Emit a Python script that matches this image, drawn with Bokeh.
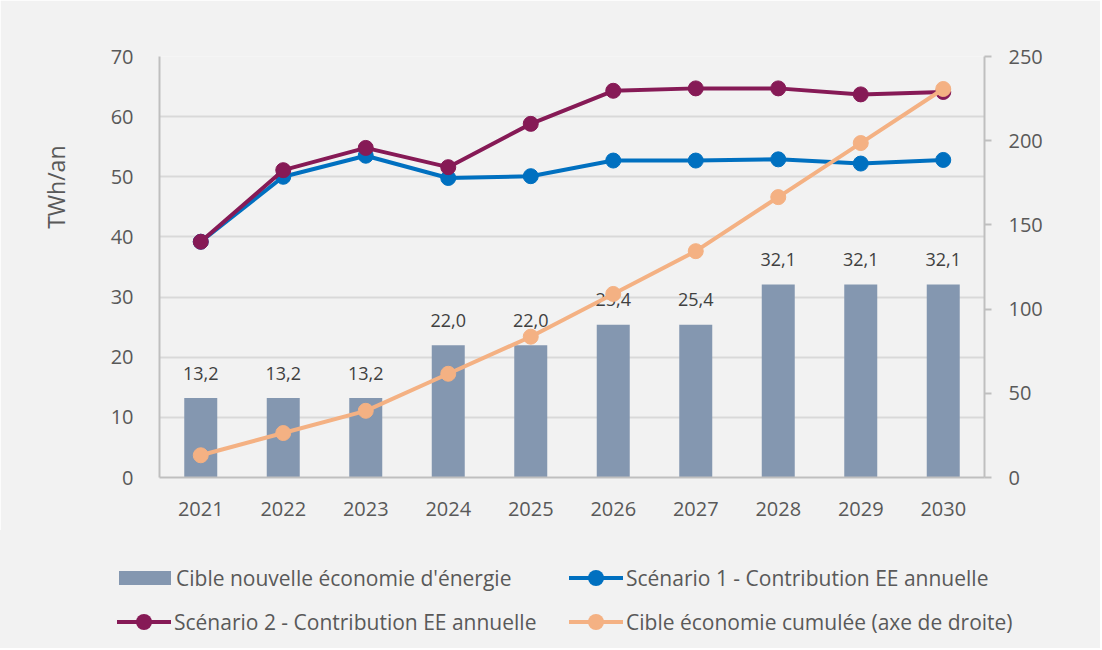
from bokeh.plotting import figure
from bokeh.layouts import column
from bokeh.models import (FactorRange, Range1d, LinearAxis, Title, Div,
                          ColumnDataSource, FixedTicker)
from bokeh.core.properties import value
from bokeh.embed import file_html
from bokeh.resources import INLINE

# ---- data ----
years = ["2021", "2022", "2023", "2024", "2025", "2026", "2027", "2028", "2029", "2030"]
cible_annuelle = [13.2, 13.2, 13.2, 22.0, 22.0, 25.4, 25.4, 32.1, 32.1, 32.1]
scenario1 = [39.2, 50.0, 53.5, 49.8, 50.1, 52.7, 52.7, 52.9, 52.2, 52.8]
scenario2 = [39.2, 51.1, 54.8, 51.6, 58.8, 64.3, 64.7, 64.7, 63.7, 64.1]
cible_cumulee = [13.2, 26.4, 39.6, 61.6, 83.6, 109.0, 134.4, 166.5, 198.6, 230.7]
left_ticks = [0, 10, 20, 30, 40, 50, 60, 70]
right_ticks = [0, 50, 100, 150, 200, 250]
bar_labels = [f"{v:.1f}".replace(".", ",") for v in cible_annuelle]

label_bar = "Cible nouvelle économie d'énergie"
label_s1 = "Scénario 1 - Contribution EE annuelle"
label_s2 = "Scénario 2 - Contribution EE annuelle"
label_cum = "Cible économie cumulée (axe de droite)"
y_title = "TWh/an"

# ---- style ----
FONT = "Open Sans"
TXT = "#595959"
BG = "#f2f2f2"
BAR_C = "#8497b0"
BLUE = "#0070c0"
PURPLE = "#861a56"
ORANGE = "#f4b183"
AXIS_C = "#bfbfbf"
GRID_C = "#d9d9d9"
W = 1100
H1, H2 = 530, 118
LW, MS = 4, 15

src = ColumnDataSource(dict(years=years, bars=cible_annuelle, s1=scenario1,
                            s2=scenario2, cum=cible_cumulee, lab=bar_labels))

p = figure(width=W, height=H1,
           x_range=FactorRange(*years, range_padding=0),
           y_range=Range1d(0, 70),
           output_backend="svg", toolbar_location=None,
           min_border_left=159, min_border_right=W - 984,
           min_border_top=56, min_border_bottom=H1 - 477)
p.extra_y_ranges = {"right": Range1d(0, 250)}

p.background_fill_color = BG
p.border_fill_color = BG
p.outline_line_color = None

# axes
p.xaxis.major_tick_line_color = None
p.xaxis.minor_tick_line_color = None
p.xaxis.axis_line_color = AXIS_C
p.xaxis.axis_line_width = 2
p.xaxis.major_label_standoff = 18
p.xaxis.major_label_text_font_size = "20px"
p.xaxis.major_label_text_color = TXT
p.xaxis.major_label_text_font = FONT

p.yaxis.ticker = FixedTicker(ticks=left_ticks)
p.yaxis.major_tick_line_color = None
p.yaxis.minor_tick_line_color = None
p.yaxis.axis_line_color = AXIS_C
p.yaxis.axis_line_width = 2
p.yaxis.major_label_standoff = 20
p.yaxis.major_label_text_font_size = "20px"
p.yaxis.major_label_text_color = TXT
p.yaxis.major_label_text_font = FONT

ry = LinearAxis(y_range_name="right", ticker=FixedTicker(ticks=right_ticks))
ry.axis_line_color = AXIS_C
ry.axis_line_width = 2
ry.major_tick_line_color = AXIS_C
ry.major_tick_line_width = 2
ry.major_tick_in = 0
ry.major_tick_out = 7
ry.minor_tick_line_color = None
ry.major_label_standoff = 17
ry.major_label_text_font_size = "20px"
ry.major_label_text_color = TXT
ry.major_label_text_font = FONT
p.add_layout(ry, "right")

p.xgrid.grid_line_color = None
p.ygrid.ticker = FixedTicker(ticks=left_ticks)
p.ygrid.grid_line_color = GRID_C
p.ygrid.grid_line_width = 2

# y title (placed toward the top like the reference)
p.add_layout(Title(text=y_title, align="right", offset=89, standoff=72,
                   text_font=FONT, text_font_size="23px",
                   text_font_style="normal", text_color=TXT), "left")

# bars
p.vbar(x="years", top="bars", width=0.4, source=src,
       fill_color=BAR_C, line_color=None)
p.text(x="years", y="bars", text="lab", source=src, y_offset=-25,
       text_align="center", text_baseline="middle",
       text_font=value(FONT), text_font_size="18px", text_color="#404040")

# lines
p.line(x="years", y="s1", source=src, line_color=BLUE, line_width=LW)
p.scatter(x="years", y="s1", source=src, size=MS, fill_color=BLUE, line_color=BLUE)
p.line(x="years", y="s2", source=src, line_color=PURPLE, line_width=LW)
p.scatter(x="years", y="s2", source=src, size=MS, fill_color=PURPLE, line_color=PURPLE)
p.line(x="years", y="cum", source=src, line_color=ORANGE, line_width=LW,
       y_range_name="right")
p.scatter(x="years", y="cum", source=src, size=MS, fill_color=ORANGE,
          line_color=ORANGE, y_range_name="right")


# ---- legend strip (HTML, real text) ----
def key_bar(color):
    return (f'<span style="position:absolute;left:0;top:5px;width:52px;height:14px;'
            f'background:{color}"></span>')


def key_line(color):
    return (f'<span style="position:absolute;left:0;top:10px;width:54px;height:4px;'
            f'background:{color}"></span>'
            f'<span style="position:absolute;left:19px;top:4px;width:16px;height:16px;'
            f'border-radius:50%;background:{color}"></span>')


def item(x, yc, key, label):
    return (f'<div style="position:absolute;left:{x}px;top:{yc - 12}px;height:24px;'
            f'white-space:nowrap;">{key}'
            f'<span style="position:absolute;left:57px;top:0;line-height:24px;'
            f'font-family:\'{FONT}\';font-size:21px;color:{TXT};">{label}</span></div>')


html = (f'<div style="position:relative;width:{W}px;height:{H2}px;background:{BG};">'
        + item(119, 48, key_bar(BAR_C), label_bar)
        + item(569, 48, key_line(BLUE), label_s1)
        + item(117, 92, key_line(PURPLE), label_s2)
        + item(569, 92, key_line(ORANGE), label_cum)
        + '</div>')

legend_div = Div(text=html, width=W, height=H2, margin=0,
                 styles={"background-color": BG})

layout = column(p, legend_div, spacing=0)
open("out.html", "w").write(file_html(layout, INLINE))
